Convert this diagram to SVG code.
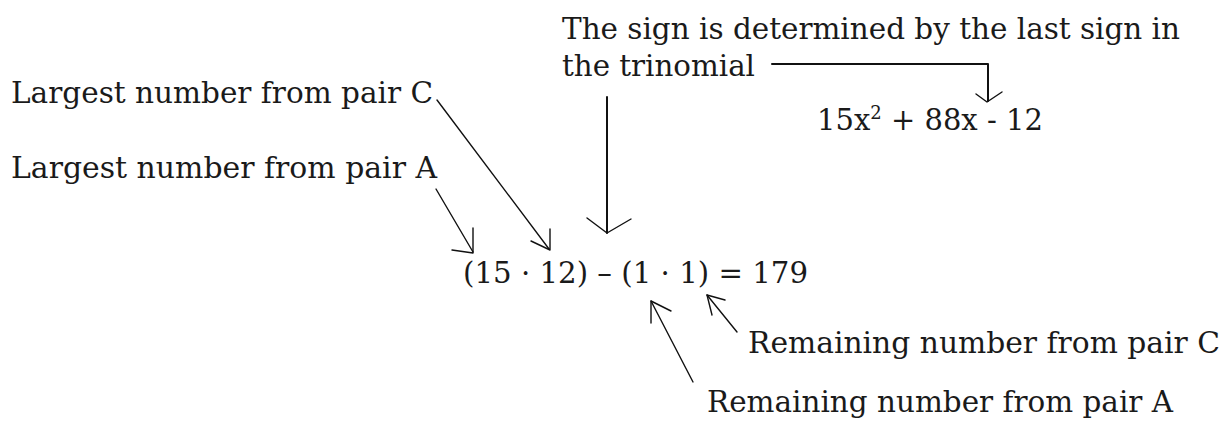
<svg xmlns="http://www.w3.org/2000/svg" width="1221" height="421" viewBox="0 0 1221 421">
<style>
.t{font-family:"DejaVu Serif","Liberation Serif",serif;font-size:29px;fill:#1a1a1a}
.ln{fill:none;stroke:#111;stroke-width:1.4;stroke-linecap:round;stroke-linejoin:round}
.thick{stroke-width:2}
</style>
<rect width="1221" height="421" fill="#fff"/>
<g id="sign-note">
<text class="t" x="562" y="39" textLength="618" lengthAdjust="spacingAndGlyphs">The sign is determined by the last sign in</text>
<text class="t" x="562" y="76" textLength="193" lengthAdjust="spacingAndGlyphs">the trinomial</text>
</g>
<g id="trinomial">
<text class="t" x="817" y="130" font-size="28">15x<tspan font-size="18" dy="-11">2</tspan><tspan dy="11"> + 88x - 12</tspan></text>
</g>
<g id="largest-c">
<text class="t" x="11" y="103" textLength="422" lengthAdjust="spacingAndGlyphs">Largest number from pair C</text>
</g>
<g id="largest-a">
<text class="t" x="11" y="178" textLength="426" lengthAdjust="spacingAndGlyphs">Largest number from pair A</text>
</g>
<g id="expression">
<text class="t" x="463" y="283" textLength="345" lengthAdjust="spacingAndGlyphs">(15 · 12) – (1  · 1) = 179</text>
</g>
<g id="remaining-c">
<text class="t" x="748" y="353" textLength="472" lengthAdjust="spacingAndGlyphs">Remaining number from pair C</text>
</g>
<g id="remaining-a">
<text class="t" x="707" y="412" textLength="466" lengthAdjust="spacingAndGlyphs">Remaining number from pair A</text>
</g>
<g id="connectors">
<polyline class="ln thick" points="772,64 988,64 988,101"/>
<polyline class="ln" points="976,94 987,102 1002,92"/>
<line class="ln thick" x1="607" y1="97" x2="607" y2="233"/>
<polyline class="ln" points="587,218 607,233 631,219"/>
<line class="ln" x1="437" y1="100" x2="549" y2="249"/>
<polyline class="ln" points="550,229 550,250 531,241"/>
<line class="ln" x1="436" y1="189" x2="473" y2="252"/>
<polyline class="ln" points="473,228 473,253 452,250"/>
<line class="ln" x1="651" y1="301" x2="693" y2="382"/>
<polyline class="ln" points="651,323 651,301 671,311"/>
<line class="ln" x1="707" y1="295" x2="737" y2="332"/>
<polyline class="ln" points="712,315 707,295 725,300"/>
</g>
</svg>
